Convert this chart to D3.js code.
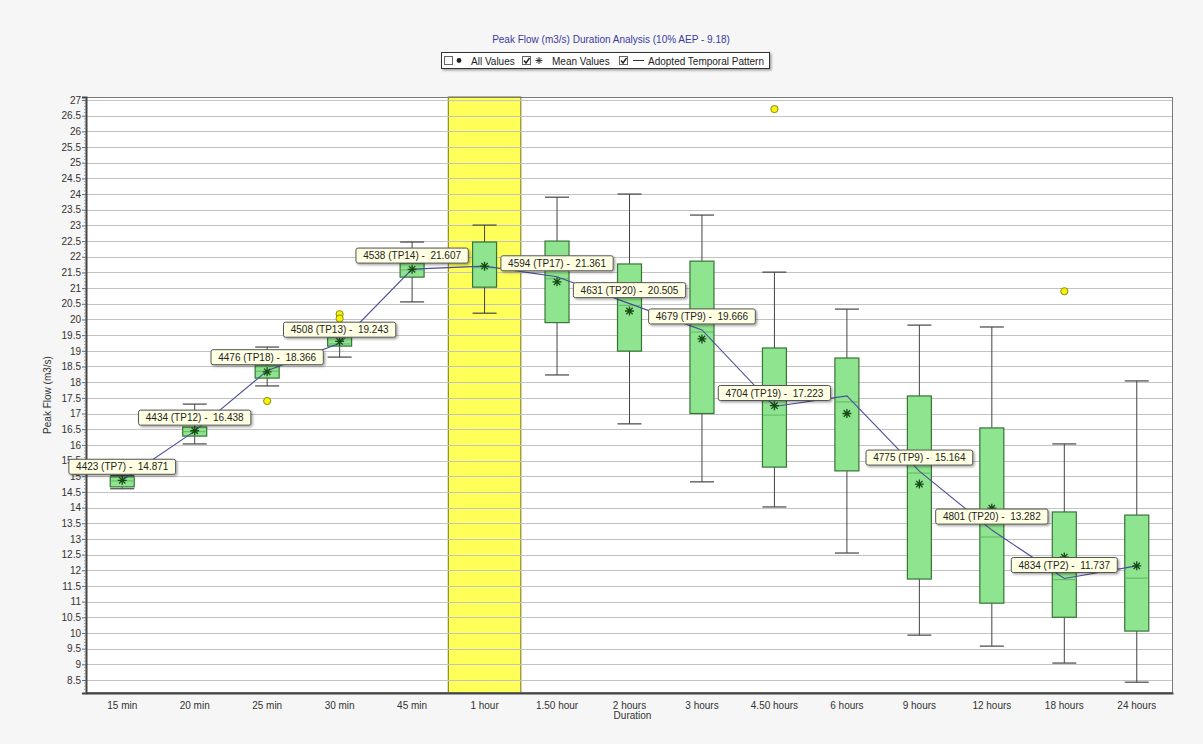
<!DOCTYPE html>
<html>
<head>
<meta charset="utf-8">
<script src="https://cdn.jsdelivr.net/npm/d3@7/dist/d3.min.js"></script>
<style>
  html, body { margin: 0; padding: 0; background: #f6f6f6; }
  svg { display: block; font-family: "Liberation Sans", Arial, sans-serif; }
</style>
</head>
<body>
<svg id="chart" width="1203" height="744"></svg>
<script>
// ---------------- DATA ----------------
const categories = ["15 min","20 min","25 min","30 min","45 min","1 hour","1.50 hour","2 hours","3 hours","4.50 hours","6 hours","9 hours","12 hours","18 hours","24 hours"];
const whiskerLow  = [14.60, 16.03, 17.88, 18.80, 20.56, 20.20, 18.23, 16.67, 14.82, 14.02, 12.55,  9.93,  9.58,  9.04,  8.43];
const q1          = [14.66, 16.28, 18.13, 19.15, 21.35, 21.03, 19.90, 18.99, 17.00, 15.29, 15.17, 11.72, 10.95, 10.50, 10.06];
const median      = [14.85, 16.42, 18.35, 19.22, 21.58, 21.65, 21.30, 20.45, 19.60, 16.95, 17.37, 15.10, 13.06, 11.70, 11.75];
const q3          = [14.98, 16.57, 18.52, 19.44, 21.80, 22.47, 22.50, 21.77, 21.86, 19.09, 18.77, 17.56, 16.54, 13.86, 13.76];
const whiskerHigh = [15.02, 17.30, 19.12, 19.70, 22.47, 23.01, 23.90, 24.00, 23.33, 21.51, 20.33, 19.82, 19.76, 16.03, 18.04];
const meanValues  = [14.87, 16.45, 18.33, 19.30, 21.60, 21.70, 21.20, 20.27, 19.38, 17.25, 17.00, 14.75, 13.98, 12.42, 12.14];
const adoptedValues = [14.871, 16.438, 18.366, 19.243, 21.607, 21.70, 21.361, 20.505, 19.666, 17.223, 17.56, 15.164, 13.282, 11.737, 12.14];
const outlierCats = ["25 min","30 min","30 min","4.50 hours","18 hours"];
const outlierVals = [17.40, 20.17, 20.03, 26.71, 20.90];
const labelCats  = ["15 min","20 min","25 min","30 min","45 min","1.50 hour","2 hours","3 hours","4.50 hours","9 hours","12 hours","18 hours"];
const labelTexts = ["4423 (TP7) -  14.871","4434 (TP12) -  16.438","4476 (TP18) -  18.366","4508 (TP13) -  19.243","4538 (TP14) -  21.607","4594 (TP17) -  21.361","4631 (TP20) -  20.505","4679 (TP9) -  19.666","4704 (TP19) -  17.223","4775 (TP9) -  15.164","4801 (TP20) -  13.282","4834 (TP2) -  11.737"];
const highlightCat = "1 hour";
const yTicks = [8.5,9,9.5,10,10.5,11,11.5,12,12.5,13,13.5,14,14.5,15,15.5,16,16.5,17,17.5,18,18.5,19,19.5,20,20.5,21,21.5,22,22.5,23,23.5,24,24.5,25,25.5,26,26.5,27];
const titleText = "Peak Flow (m3/s) Duration Analysis (10% AEP - 9.18)";
const legendItems = ["All Values","Mean Values","Adopted Temporal Pattern"];
const legendChecked = [false, true, true];
const yTitle = "Peak Flow (m3/s)";
const xTitle = "Duration";

// ---------------- LAYOUT ----------------
const svg = d3.select("#chart");
const L = 86, R = 1173, T = 97, B = 693;
const x = d3.scaleBand().domain(categories).range([L, R]).paddingInner(0).paddingOuter(0);
const y = d3.scaleLinear().domain([8.085, 27.096]).range([B, T]);
const bw = 24;
const cx = c => x(c) + x.bandwidth() / 2;

// defs
const defs = svg.append("defs");
const f = defs.append("filter").attr("id","shadow").attr("x","-10%").attr("y","-30%").attr("width","130%").attr("height","180%");
f.append("feDropShadow").attr("dx",1.5).attr("dy",1.5).attr("stdDeviation",0.8).attr("flood-color","#000").attr("flood-opacity",0.35);

// plot background
svg.append("rect").attr("x", L).attr("y", T).attr("width", R - L).attr("height", B - T).attr("fill", "#ffffff");

// highlight band
svg.append("rect")
  .attr("x", x(highlightCat)).attr("y", T).attr("width", x.bandwidth()).attr("height", B - T)
  .attr("fill", "#ffff59").attr("stroke", "#8a8a2a").attr("stroke-width", 1.2);

// gridlines
svg.append("g").selectAll("line").data(yTicks).join("line")
  .attr("x1", L).attr("x2", R)
  .attr("y1", d => Math.round(y(d)) + 0.5).attr("y2", d => Math.round(y(d)) + 0.5)
  .attr("stroke", "#c3c3c3").attr("stroke-width", 1);

// frame
svg.append("rect").attr("x", L + 0.5).attr("y", T + 0.5).attr("width", R - L - 1).attr("height", B - T - 1)
  .attr("fill", "none").attr("stroke", "#7a7a7a").attr("stroke-width", 1);

// y axis
const yAxis = d3.axisLeft(y).tickValues(yTicks).tickSize(4).tickFormat(d3.format("~g"));
const gy = svg.append("g").attr("transform", `translate(${L},0)`).call(yAxis);
gy.select(".domain").attr("stroke", "#444").attr("stroke-width", 2);
gy.selectAll(".tick line").attr("stroke", "#666");
gy.selectAll(".tick text").attr("font-size", 10).attr("fill", "#333").attr("font-family", "Liberation Sans, Arial, sans-serif").attr("x", -5);
// minor ticks
const minor = d3.range(8.1, 27.05, 0.1).filter(v => Math.abs(v * 2 - Math.round(v * 2)) > 0.01);
svg.append("g").selectAll("line").data(minor).join("line")
  .attr("x1", L - 2).attr("x2", L)
  .attr("y1", d => y(d)).attr("y2", d => y(d))
  .attr("stroke", "#888").attr("stroke-width", 0.8);

// x axis
const xAxis = d3.axisBottom(x).tickSize(0).tickPadding(9);
const gx = svg.append("g").attr("transform", `translate(0,${B})`).call(xAxis);
gx.select(".domain").attr("stroke", "#444").attr("stroke-width", 2);
gx.selectAll(".tick text").attr("font-size", 10).attr("fill", "#333").attr("font-family", "Liberation Sans, Arial, sans-serif");

// axis titles
svg.append("text").attr("transform", `translate(51,${(T + B) / 2}) rotate(-90)`)
  .attr("text-anchor", "middle").attr("font-size", 10).attr("fill", "#333").text(yTitle);
svg.append("text").attr("x", (L + R) / 2 + 3).attr("y", 719)
  .attr("text-anchor", "middle").attr("font-size", 10).attr("fill", "#333").text(xTitle);

// boxes
const idx = categories.map((c, i) => i);
const boxes = svg.append("g");
boxes.selectAll("line.whisk").data(idx).join("line").attr("class","whisk")
  .attr("x1", i => cx(categories[i])).attr("x2", i => cx(categories[i]))
  .attr("y1", i => y(whiskerHigh[i])).attr("y2", i => y(whiskerLow[i]))
  .attr("stroke", "#444").attr("stroke-width", 1);
boxes.selectAll("line.capH").data(idx).join("line").attr("class","capH")
  .attr("x1", i => cx(categories[i]) - bw / 2).attr("x2", i => cx(categories[i]) + bw / 2)
  .attr("y1", i => y(whiskerHigh[i])).attr("y2", i => y(whiskerHigh[i]))
  .attr("stroke", "#444").attr("stroke-width", 1.2);
boxes.selectAll("line.capL").data(idx).join("line").attr("class","capL")
  .attr("x1", i => cx(categories[i]) - bw / 2).attr("x2", i => cx(categories[i]) + bw / 2)
  .attr("y1", i => y(whiskerLow[i])).attr("y2", i => y(whiskerLow[i]))
  .attr("stroke", "#444").attr("stroke-width", 1.2);
boxes.selectAll("rect").data(idx).join("rect")
  .attr("x", i => cx(categories[i]) - bw / 2).attr("width", bw)
  .attr("y", i => y(q3[i])).attr("height", i => y(q1[i]) - y(q3[i]))
  .attr("fill", "#8fe48f").attr("stroke", "#357535").attr("stroke-width", 1.2);
boxes.selectAll("line.med").data(idx).join("line").attr("class","med")
  .attr("x1", i => cx(categories[i]) - bw / 2 + 1).attr("x2", i => cx(categories[i]) + bw / 2 - 1)
  .attr("y1", i => y(median[i])).attr("y2", i => y(median[i]))
  .attr("stroke", "#62b862").attr("stroke-width", 1);

// outliers
svg.append("g").selectAll("circle").data(outlierVals).join("circle")
  .attr("cx", (d, i) => cx(outlierCats[i])).attr("cy", d => y(d)).attr("r", 3.6)
  .attr("fill", "#f4f400").attr("stroke", "#8a8a1a").attr("stroke-width", 1);

// adopted temporal pattern line
const line = d3.line().x((d, i) => cx(categories[i])).y(d => y(d));
svg.append("path").datum(adoptedValues).attr("d", line)
  .attr("fill", "none").attr("stroke", "#4a4f9a").attr("stroke-width", 1.1);

// mean asterisks
function asterisk(r) {
  const a = r * Math.SQRT1_2;
  return `M${-r},0L${r},0M0,${-r}L0,${r}M${-a},${-a}L${a},${a}M${-a},${a}L${a},${-a}`;
}
svg.append("g").selectAll("path").data(meanValues).join("path")
  .attr("transform", (d, i) => `translate(${cx(categories[i])},${y(d)})`)
  .attr("d", asterisk(4.5)).attr("stroke", "#174a17").attr("stroke-width", 1.3).attr("fill", "none");

// value labels
const lg = svg.append("g");
labelCats.forEach((c, i) => {
  const k = categories.indexOf(c);
  const px = cx(c), py = y(adoptedValues[k]);
  const g = lg.append("g");
  const t = g.append("text").attr("x", px).attr("y", py - 10).attr("text-anchor", "middle")
    .attr("font-size", 10).attr("fill", "#222").style("white-space", "pre").text(labelTexts[i]);
  const bb = t.node().getBBox();
  const w = bb.width + 14;
  g.insert("rect", "text").attr("x", px - w / 2).attr("y", py - 21).attr("width", w).attr("height", 15)
    .attr("rx", 2).attr("fill", "#ffffe4").attr("stroke", "#555").attr("stroke-width", 1)
    .attr("filter", "url(#shadow)");
});

// title
svg.append("text").attr("x", 611).attr("y", 43).attr("text-anchor", "middle")
  .attr("font-size", 10).attr("fill", "#3a3aa0").text(titleText);

// legend
const leg = svg.append("g");
leg.append("rect").attr("x", 441.5).attr("y", 52.5).attr("width", 328).attr("height", 16)
  .attr("fill", "#fff").attr("stroke", "#333").attr("stroke-width", 1).attr("filter", "url(#shadow)");
const legX = [444, 522, 619];
const legTextX = [471, 552, 648];
legendItems.forEach((txt, i) => {
  const bx = legX[i];
  leg.append("rect").attr("x", bx + 0.5).attr("y", 56.5).attr("width", 8).attr("height", 8)
    .attr("fill", "#fff").attr("stroke", "#666");
  if (legendChecked[i]) {
    leg.append("path").attr("d", `M${bx + 2},${60.5}L${bx + 4},${63}L${bx + 7.5},${58}`)
      .attr("fill", "none").attr("stroke", "#222").attr("stroke-width", 1.4);
  }
  leg.append("text").attr("x", legTextX[i]).attr("y", 64.5).attr("font-size", 10).attr("fill", "#222").text(txt);
});
leg.append("circle").attr("cx", 459).attr("cy", 60.5).attr("r", 2.4).attr("fill", "#222");
leg.append("path").attr("transform", "translate(539,60.5)").attr("d", asterisk(3.5))
  .attr("stroke", "#333").attr("stroke-width", 1).attr("fill", "none");
leg.append("line").attr("x1", 633).attr("x2", 644).attr("y1", 60.5).attr("y2", 60.5)
  .attr("stroke", "#333").attr("stroke-width", 1);
</script>
</body>
</html>
